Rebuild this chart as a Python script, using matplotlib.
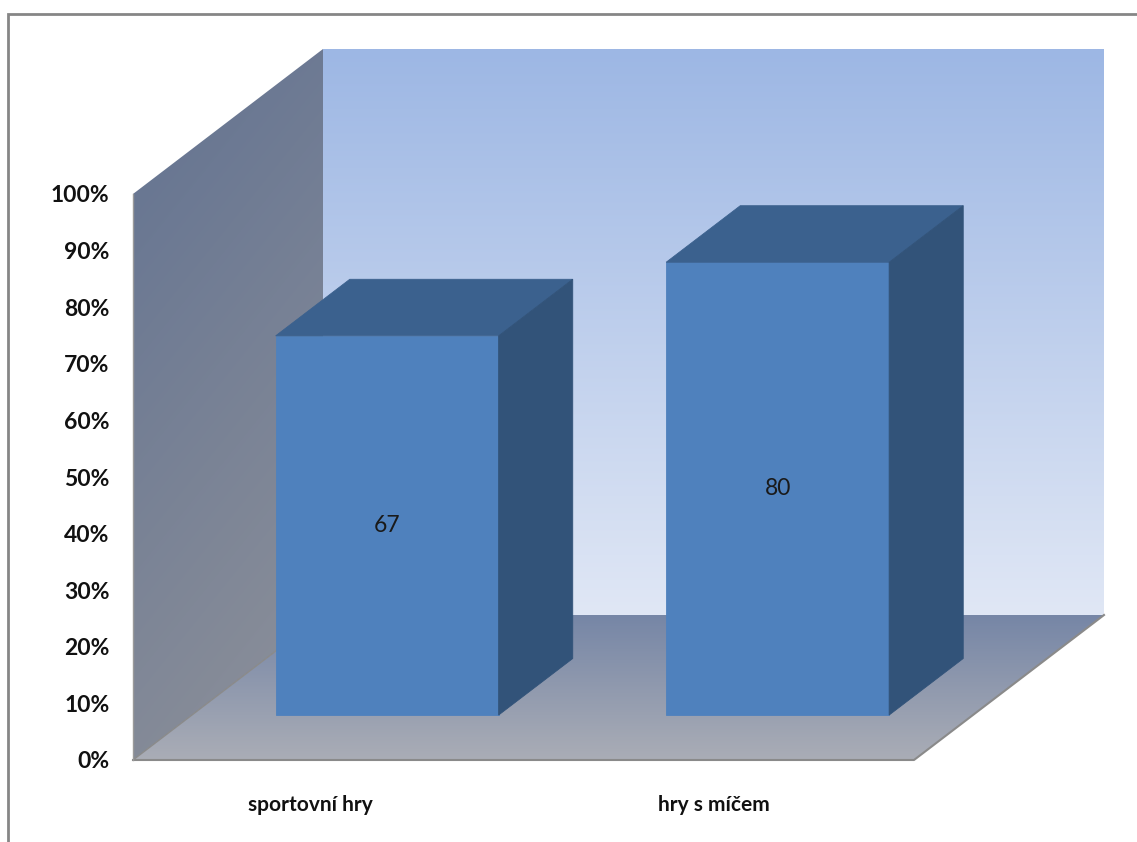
import matplotlib
matplotlib.use("Agg")
import matplotlib.pyplot as plt
import matplotlib.transforms as mtransforms
import numpy as np
from matplotlib.patches import Polygon, Rectangle
from matplotlib.ticker import PercentFormatter, FixedLocator

# ---- data ----
categories = ["sportovní hry", "hry s míčem"]
values = [67, 80]
y_ticks = list(range(0, 101, 10))

# ---- figure / geometry ----
W, H = 1137, 842
fig = plt.figure(figsize=(W / 100, H / 100), dpi=100)
fig.patch.set_facecolor("white")

# front plane of the 3D box in pixels
X0, X1 = 133, 914
Y0, Y1 = 760, 194
ax = fig.add_axes([X0 / W, 1 - Y0 / H, (X1 - X0) / W, (Y0 - Y1) / H])
n = len(categories)
ax.set_xlim(0, n)
ax.set_ylim(0, 100)
ax.set_autoscale_on(False)
ax.patch.set_visible(False)
for s in ax.spines.values():
    s.set_visible(False)

# depth offset (in data units)
DX = 190 / (X1 - X0) * n
DY = 145 / (Y0 - Y1) * 100
D0, D1 = 0.31, 0.70     # bar depth range (fraction of depth)
BW = 0.571              # bar width (category units)

FONT = "Lato"

def gradient_fill(poly_pts, c_top, c_bot, extent, angle=False, z=1):
    poly = Polygon(poly_pts, closed=True, facecolor="none", edgecolor="none",
                   transform=ax.transData, clip_on=False, zorder=z)
    ax.add_patch(poly)
    c_top = np.array(c_top) / 255.0
    c_bot = np.array(c_bot) / 255.0
    ny, nx = 200, 200
    t = np.linspace(0, 1, ny)[:, None] * np.ones((1, nx))
    if angle:
        s = np.linspace(0, 1, nx)[None, :] * np.ones((ny, 1))
        t = np.clip(0.75 * t + 0.25 * s, 0, 1)
    img = c_top[None, None, :] * (1 - t[..., None]) + c_bot[None, None, :] * t[..., None]
    im = ax.imshow(img, extent=extent, origin="upper", aspect="auto",
                   zorder=z, interpolation="bilinear")
    im.set_clip_box(fig.bbox)
    im.set_clip_path(poly)
    return poly

# back wall
back = [(DX, DY), (DX, 100 + DY), (n + DX, 100 + DY), (n + DX, DY)]
gradient_fill(back, (157, 183, 228), (224, 231, 245), (DX, n + DX, DY, 100 + DY), z=1)
# left wall
left = [(0, 0), (0, 100), (DX, 100 + DY), (DX, DY)]
gradient_fill(left, (98, 114, 145), (143, 146, 154), (0, DX, 0, 100 + DY), angle=True, z=1.1)
# floor
floor = [(0, 0), (n, 0), (n + DX, DY), (DX, DY)]
gradient_fill(floor, (118, 134, 166), (170, 173, 182), (0, n + DX, 0, DY), z=1.2)
ax.set_xlim(0, n)
ax.set_ylim(0, 100)
# edge lines
ax.plot([0, n, n + DX], [0, 0, DY], color="#8a8a8a", lw=1.5, clip_on=False, zorder=1.5)
ax.plot([0, DX], [0, DY], color="#8a8a8a", lw=1.0, clip_on=False, zorder=1.5)
ax.plot([0, 0], [0, 100], color="#9a9a9a", lw=1.0, clip_on=False, zorder=1.5)

# bars
front_c = "#4F81BD"
top_c = "#3B618E"
side_c = "#325379"
for i, v in enumerate(values):
    xl = i + 0.5 - BW / 2
    xr = i + 0.5 + BW / 2
    ox, oy = D0 * DX, D0 * DY
    dx, dy = (D1 - D0) * DX, (D1 - D0) * DY
    fl, fr = xl + ox, xr + ox
    fb, ft = oy, oy + v
    front = [(fl, fb), (fr, fb), (fr, ft), (fl, ft)]
    top = [(fl, ft), (fr, ft), (fr + dx, ft + dy), (fl + dx, ft + dy)]
    side = [(fr, fb), (fr + dx, fb + dy), (fr + dx, ft + dy), (fr, ft)]
    for pts, c in ((front, front_c), (top, top_c), (side, side_c)):
        ax.add_patch(Polygon(pts, closed=True, facecolor=c, edgecolor=c, lw=0.6,
                             clip_on=False, zorder=3))
    ax.text((fl + fr) / 2, (fb + ft) / 2, f"{v}", ha="center", va="center",
            fontsize=16.5, family=FONT, color="#1a1a1a", zorder=4)

# axes ticks
ax.yaxis.set_major_locator(FixedLocator(y_ticks))
ax.yaxis.set_major_formatter(PercentFormatter(decimals=0))
ax.set_xticks([i + 0.5 for i in range(n)])
ax.set_xticklabels(categories)
ax.tick_params(axis="y", length=0, pad=17)
ax.tick_params(axis="x", length=0, pad=25)
for lab in ax.get_yticklabels():
    lab.set_fontfamily(FONT)
    lab.set_fontweight("bold")
    lab.set_fontsize(16.5)
    lab.set_color("#111111")
label_shift_px = [-18, -5]
for lab, sh in zip(ax.get_xticklabels(), label_shift_px):
    lab.set_fontfamily(FONT)
    lab.set_fontweight("bold")
    lab.set_fontsize(15)
    lab.set_color("#111111")
    lab.set_transform(lab.get_transform()
                      + mtransforms.ScaledTranslation(sh / 100, 0, fig.dpi_scale_trans))

# chart border
fig.add_artist(Rectangle((8 / W, -0.2), 1.2, 1.2 - 14 / H, transform=fig.transFigure,
                         facecolor="none", edgecolor="#868686", lw=2))

fig.savefig("out.png", dpi=100, facecolor="white")
